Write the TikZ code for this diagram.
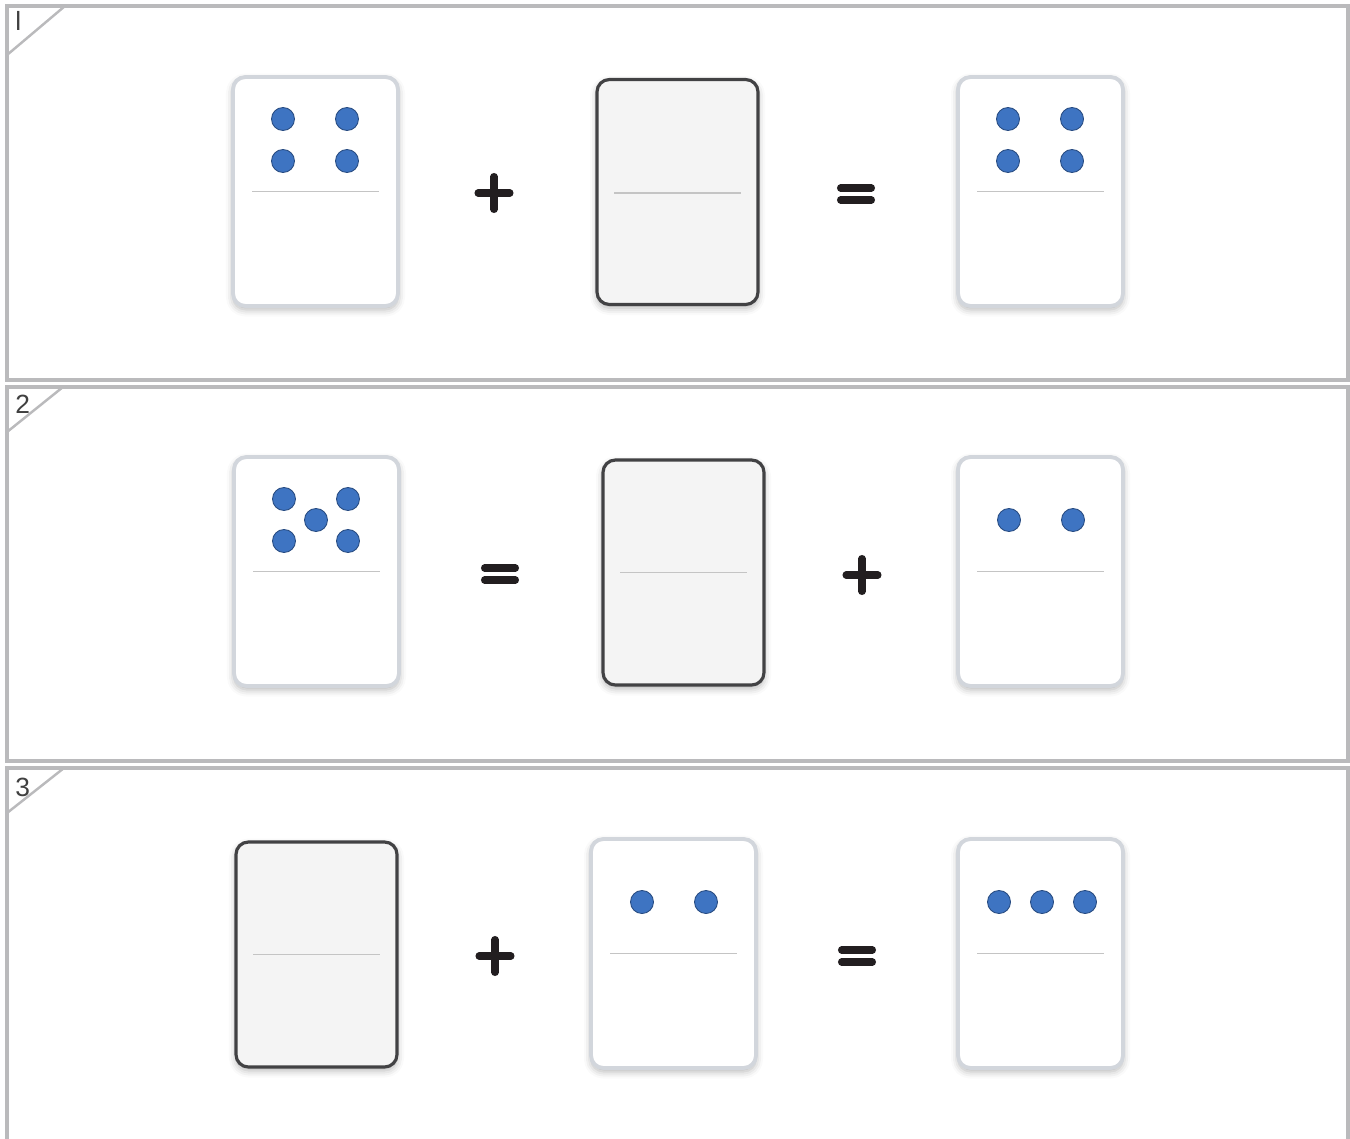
\documentclass[tikz,border=0pt]{standalone}
\usepackage{fontspec}
\setmainfont{Liberation Sans}
\usetikzlibrary{shadows.blur}
\definecolor{panelgray}{RGB}{186,186,188}
\definecolor{cardedge}{RGB}{210,214,220}
\definecolor{blankedge}{RGB}{66,66,68}
\definecolor{blankfill}{RGB}{244,244,244}
\definecolor{midline}{RGB}{196,196,196}
\definecolor{dotblue}{RGB}{62,116,194}
\definecolor{dotedge}{RGB}{40,76,130}
\definecolor{signdark}{RGB}{34,30,32}

\begin{document}
\begin{tikzpicture}[
    x=0.02cm,y=-0.02cm,
    panel/.style={draw=panelgray,line width=1.9pt},
    corner/.style={draw=panelgray,line width=1.4pt},
    tag/.style={anchor=north west,inner sep=0pt,text=black!75,font=\fontsize{15}{15}\selectfont},
    card/.style={draw=cardedge,line width=2.2pt,fill=white,rounded corners=7pt,
      minimum width=3.3cm,minimum height=4.58cm,inner sep=0pt,
      blur shadow={shadow xshift=0pt,shadow yshift=-2pt,shadow blur radius=4pt,shadow opacity=30}},
    blank/.style={card,draw=blankedge,line width=1.8pt,fill=blankfill,
      minimum width=3.22cm,minimum height=4.5cm},
    mid/.style={draw=midline,line width=0.8pt},
    dot/.style={circle,fill=dotblue,draw=dotedge,line width=0.5pt,minimum size=0.46cm,inner sep=0pt},
    sign/.style={draw=signdark,line width=4pt,line cap=round}
  ]
    \clip (0,0) rectangle (1350,1139);
    \useasboundingbox (0,0) rectangle (1350,1139);

    % panel frames
    \draw[panel] (7,6) rectangle (1348,380);
    \draw[panel] (7,387) rectangle (1348,761);
    \draw[panel] (7,768) rectangle (1348,1160);
    \draw[corner] (7,55) -- (65,6);
    \draw[corner] (7,432) -- (63,387);
    \draw[corner] (7,813) -- (64,768);
    \node[tag] (tag1) at (15,11) {l};
    \node[tag] (tag2) at (15,395) {2};
    \node[tag] (tag3) at (15,778) {3};

    % row 1
    \node[card] (a1) at (315.5,191.5) {};
    \node[blank] (b1) at (677.5,192) {};
    \node[card] (c1) at (1040.5,191.5) {};
    \draw[mid] ([xshift=0.42cm]a1.west) -- ([xshift=-0.42cm]a1.east);
    \draw[mid] ([xshift=0.38cm,yshift=-0.02cm]b1.west) -- ([xshift=-0.38cm,yshift=-0.02cm]b1.east);
    \draw[mid] ([xshift=0.42cm]c1.west) -- ([xshift=-0.42cm]c1.east);
    \node[dot] (a1d1) at (283,119) {};
    \node[dot] (a1d2) at (347,119) {};
    \node[dot] (a1d3) at (283,161) {};
    \node[dot] (a1d4) at (347,161) {};
    \node[dot] (c1d1) at (1008,119) {};
    \node[dot] (c1d2) at (1072,119) {};
    \node[dot] (c1d3) at (1008,161) {};
    \node[dot] (c1d4) at (1072,161) {};
    \coordinate (plus1) at (494,193);
    \coordinate (eq1) at (856,194);
    \draw[sign] ([xshift=-0.32cm]plus1) -- ([xshift=0.32cm]plus1)
                ([yshift=-0.33cm]plus1) -- ([yshift=0.33cm]plus1);
    \draw[sign] ([xshift=-0.31cm,yshift=0.12cm]eq1) -- ([xshift=0.31cm,yshift=0.12cm]eq1)
                ([xshift=-0.31cm,yshift=-0.12cm]eq1) -- ([xshift=0.31cm,yshift=-0.12cm]eq1);

    % row 2
    \node[card] (a2) at (316.5,571.5) {};
    \node[blank] (b2) at (683.5,572.5) {};
    \node[card] (c2) at (1040.5,571.5) {};
    \draw[mid] ([xshift=0.42cm]a2.west) -- ([xshift=-0.42cm]a2.east);
    \draw[mid] ([xshift=0.38cm]b2.west) -- ([xshift=-0.38cm]b2.east);
    \draw[mid] ([xshift=0.42cm]c2.west) -- ([xshift=-0.42cm]c2.east);
    \node[dot] (a2d1) at (284,499) {};
    \node[dot] (a2d2) at (348,499) {};
    \node[dot] (a2d3) at (316,520) {};
    \node[dot] (a2d4) at (284,541) {};
    \node[dot] (a2d5) at (348,541) {};
    \node[dot] (c2d1) at (1009,520) {};
    \node[dot] (c2d2) at (1073,520) {};
    \coordinate (eq2) at (500,574);
    \coordinate (plus2) at (862,575);
    \draw[sign] ([xshift=-0.31cm,yshift=0.12cm]eq2) -- ([xshift=0.31cm,yshift=0.12cm]eq2)
                ([xshift=-0.31cm,yshift=-0.12cm]eq2) -- ([xshift=0.31cm,yshift=-0.12cm]eq2);
    \draw[sign] ([xshift=-0.32cm]plus2) -- ([xshift=0.32cm]plus2)
                ([yshift=-0.33cm]plus2) -- ([yshift=0.33cm]plus2);

    % row 3
    \node[blank] (a3) at (316.5,954.5) {};
    \node[card] (b3) at (673.5,953.5) {};
    \node[card] (c3) at (1040.5,953.5) {};
    \draw[mid] ([xshift=0.38cm]a3.west) -- ([xshift=-0.38cm]a3.east);
    \draw[mid] ([xshift=0.42cm]b3.west) -- ([xshift=-0.42cm]b3.east);
    \draw[mid] ([xshift=0.42cm]c3.west) -- ([xshift=-0.42cm]c3.east);
    \node[dot] (b3d1) at (642,902) {};
    \node[dot] (b3d2) at (706,902) {};
    \node[dot] (c3d1) at (999,902) {};
    \node[dot] (c3d2) at (1042,902) {};
    \node[dot] (c3d3) at (1085,902) {};
    \coordinate (plus3) at (495,956);
    \coordinate (eq3) at (857,956);
    \draw[sign] ([xshift=-0.32cm]plus3) -- ([xshift=0.32cm]plus3)
                ([yshift=-0.33cm]plus3) -- ([yshift=0.33cm]plus3);
    \draw[sign] ([xshift=-0.31cm,yshift=0.12cm]eq3) -- ([xshift=0.31cm,yshift=0.12cm]eq3)
                ([xshift=-0.31cm,yshift=-0.12cm]eq3) -- ([xshift=0.31cm,yshift=-0.12cm]eq3);
  \end{tikzpicture}
\end{document}
